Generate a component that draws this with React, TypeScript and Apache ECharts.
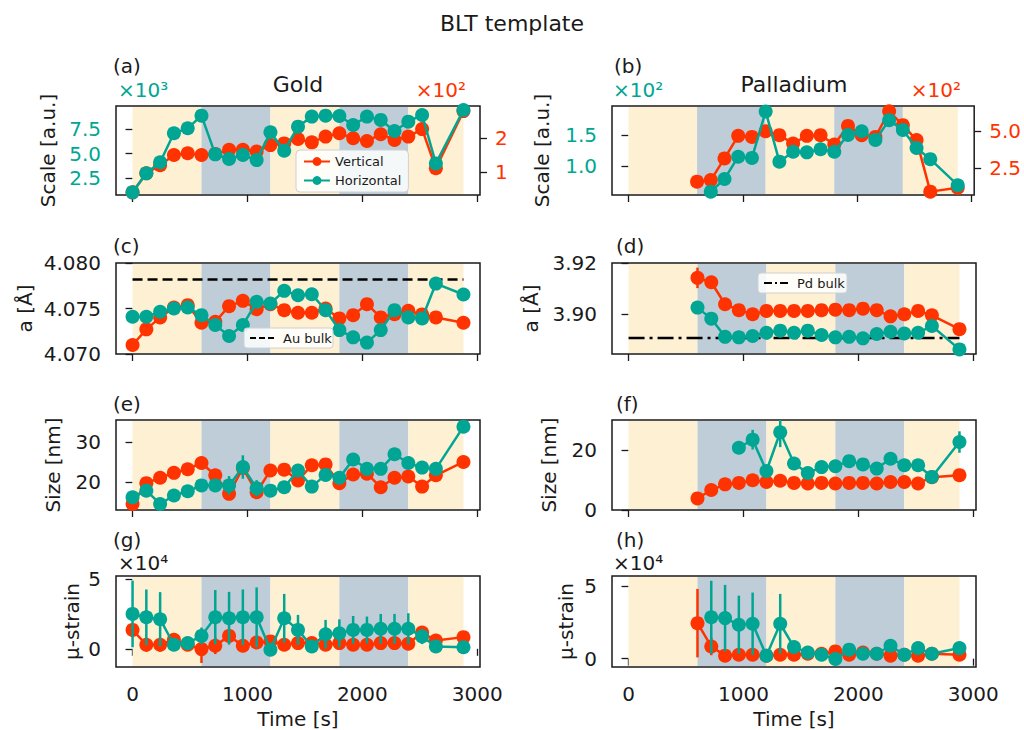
import React, { useEffect, useRef } from "react";
import * as echarts from "echarts";

// ---------- data ----------
const timeAu = [0, 120, 240, 360, 480, 600, 720, 840, 960, 1080, 1200, 1320, 1440, 1560, 1680, 1800, 1920, 2040, 2160, 2280, 2400, 2520, 2640, 2880];
const timePd = [600, 720, 840, 960, 1080, 1200, 1320, 1440, 1560, 1680, 1800, 1920, 2040, 2160, 2280, 2400, 2520, 2640, 2880];

// phase windows [start, end, kind] kind 0 = light, 1 = dark
const phases = [
  [0, 600, 0],
  [600, 1200, 1],
  [1200, 1800, 0],
  [1800, 2400, 1],
  [2400, 2880, 0],
];

// (a) Gold scale: Vertical in units of 1e2, Horizontal in units of 1e3
const goldScaleV = [0.41, 0.97, 1.21, 1.51, 1.56, 1.51, 1.54, 1.66, 1.66, 1.61, 1.80, 1.85, 1.98, 1.88, 2.05, 2.15, 2.00, 1.92, 2.12, 1.95, 2.05, 2.27, 1.12, 2.80];
const goldScaleH = [1.03, 2.98, 4.11, 7.09, 7.60, 8.90, 4.93, 4.45, 4.86, 4.34, 7.19, 5.30, 7.77, 8.80, 8.90, 8.87, 7.94, 8.80, 8.46, 7.33, 8.28, 8.97, 4.00, 9.48];
// (b) Palladium scale: both in units of 1e2
const pdScaleV = [1.55, 1.66, 3.14, 4.68, 4.61, 5.00, 4.73, 4.16, 4.68, 4.73, 4.09, 5.36, 4.73, 4.61, 6.36, 5.41, 4.39, 0.87, 1.14];
const pdScaleH = [null, 0.586, 0.79, 1.15, 1.13, 1.88, 1.07, 1.23, 1.22, 1.27, 1.23, 1.50, 1.56, 1.42, 1.74, 1.58, 1.29, 1.11, 0.69];

// (c) Gold lattice parameter [Å]
const goldLatV = [4.07099, 4.07271, 4.07402, 4.07511, 4.07537, 4.07344, 4.07354, 4.07526, 4.07584, 4.07493, 4.07548, 4.07482, 4.07453, 4.07453, 4.07500, 4.07391, 4.07427, 4.07548, 4.07402, 4.07438, 4.07475, 4.07435, 4.07402, 4.07344];
const goldLatH = [4.07409, 4.07409, 4.07464, 4.07500, 4.07511, 4.07427, 4.07318, 4.07198, 4.07318, 4.07573, 4.07555, 4.07694, 4.07646, 4.07657, 4.07482, 4.07263, 4.07183, 4.07125, 4.07263, 4.07482, 4.07402, 4.07391, 4.07774, 4.07654];
const auBulk = 4.0782;
// (d) Palladium lattice parameter [Å]
const pdLatV = [3.9142, 3.9125, 3.9039, 3.9016, 3.9000, 3.9013, 3.9013, 3.9013, 3.9013, 3.9016, 3.9018, 3.9016, 3.9022, 3.9016, 3.8992, 3.9000, 3.9013, 3.8996, 3.8942];
const pdLatVErr = [0.0040, 0.0010, 0.0005, 0.0004, 0.0004, 0.0004, 0.0004, 0.0004, 0.0004, 0.0004, 0.0004, 0.0004, 0.0004, 0.0004, 0.0004, 0.0004, 0.0004, 0.0004, 0.0005];
const pdLatH = [3.9026, 3.8983, 3.8912, 3.8910, 3.8915, 3.8928, 3.8936, 3.8928, 3.8936, 3.8919, 3.8910, 3.8912, 3.8906, 3.8923, 3.8932, 3.8925, 3.8928, 3.8954, 3.8863];
const pdBulk = 3.8907;

// (e) Gold size [nm]
const goldSizeV = [14.6, 19.75, 21.1, 22.3, 23.2, 24.75, 21.7, 17.1, 23.5, 17.5, 22.9, 23.1, 20.4, 24.2, 24.4, 19.75, 21.9, 22.1, 18.75, 21.1, 21.4, 18.9, 21.7, 25.0];
const goldSizeH = [16.25, 17.9, 14.6, 16.7, 17.75, 19.2, 19.2, 19.2, 23.75, 18.5, 17.9, 18.75, 22.9, 18.9, 21.8, 21.1, 25.6, 23.3, 23.3, 26.9, 24.75, 23.6, 23.3, 33.75];
const goldSizeHErr = [0.5, 0.4, 0.4, 0.4, 0.4, 0.5, 0.5, 2.3, 2.9, 2.0, 0.4, 0.4, 0.5, 0.4, 0.5, 0.5, 0.5, 0.5, 0.5, 0.5, 0.5, 0.5, 0.5, 0.8];
// (f) Palladium size [nm]
const pdSizeV = [3.9, 6.7, 8.6, 9.1, 10.0, 9.4, 9.8, 9.1, 8.9, 9.1, 8.9, 9.1, 9.1, 8.9, 9.4, 9.4, 8.9, 11.0, 11.7];
const pdSizeH = [null, null, null, 20.9, 23.6, 13.1, 26.1, 15.6, 12.4, 14.4, 14.7, 16.4, 15.3, 13.9, 17.2, 15.0, 15.0, 11.1, 22.8];
const pdSizeHErr = [null, null, null, 2.0, 3.3, 1.0, 5.0, 1.0, 0.8, 0.8, 0.8, 0.8, 0.8, 0.8, 0.8, 0.8, 0.8, 0.8, 3.6];

// (g) Gold micro-strain, units of 1e4
const goldStrainV = [1.36, 0.29, 0.29, 0.65, 0.29, -0.02, 0.22, 0.93, 0.22, 0.45, 0.53, 0.29, 0.41, 0.41, 0.29, 0.41, 0.29, 0.29, 0.41, 0.41, 0.36, 1.17, 0.60, 0.84];
const goldStrainVErr = [0.5, 0.5, 0.5, 0.4, 0.4, 1.0, 0.6, 0.4, 0.4, 0.4, 0.4, 0.4, 0.3, 0.3, 0.3, 0.3, 0.3, 0.3, 0.3, 0.3, 0.3, 0.3, 0.2, 0.2];
const goldStrainH = [2.51, 2.27, 2.13, 0.29, 0.41, 0.93, 2.27, 2.20, 2.27, 2.27, -0.07, 2.20, 1.36, 0.17, 1.05, 1.12, 1.36, 1.36, 1.44, 1.44, 1.44, 0.89, 0.17, 0.12];
const goldStrainHErr = [2.4, 2.0, 1.95, 0.3, 0.2, 0.6, 1.96, 1.9, 2.0, 2.15, 0.3, 1.75, 1.08, 0.2, 1.03, 1.0, 1.0, 0.96, 1.07, 1.07, 1.12, 0.55, 0.15, 0.1];
// (h) Palladium micro-strain, units of 1e4
const pdStrainV = [2.44, 0.84, 0.21, 0.27, 0.27, 0.21, 0.27, 0.27, 0.34, 0.34, 0.50, 0.27, 0.43, 0.34, 0.21, 0.27, 0.21, 0.34, 0.27];
const pdStrainVErr = [2.35, 0.6, 0.2, 0.2, 0.2, 0.2, 0.2, 0.2, 0.2, 0.2, 0.2, 0.2, 0.2, 0.2, 0.2, 0.2, 0.2, 0.2, 0.2];
const pdStrainH = [null, 2.85, 2.79, 2.33, 2.40, 0.21, 2.40, 0.80, 0.43, 0.27, -0.02, 0.62, 0.34, 0.34, 0.89, 0.27, 0.73, 0.34, 0.73];
const pdStrainHErr = [null, 2.5, 2.28, 2.0, 2.14, 0.2, 2.05, 0.3, 0.2, 0.2, 0.2, 0.2, 0.2, 0.2, 0.2, 0.2, 0.2, 0.2, 0.2];

// tick values
const timeTicks = [0, 1000, 2000, 3000];
const goldScaleHTicks = [2.5, 5.0, 7.5];
const goldScaleVTicks = [1, 2];
const pdScaleHTicks = [1.0, 1.5];
const pdScaleVTicks = [2.5, 5.0];
const goldLatTicks = [4.07, 4.075, 4.08];
const pdLatTicks = [3.9, 3.92];
const goldSizeTicks = [20, 30];
const pdSizeTicks = [0, 20];
const strainTicks = [0, 5];

// ---------- styling ----------
const RED = "#FF3300";
const TEAL = "#00A693";
const PHASE_LIGHT = "#FEF0D2";
const PHASE_DARK = "#BECDD8";
const INK = "#1a1a1a";
const FONT = "DejaVu Sans";

const pairs = (ts: number[], ys: (number | null)[]) =>
  ts.map((t, i) => [t, ys[i]]).filter((p) => p[1] !== null);
const triples = (ts: number[], ys: (number | null)[], es: (number | null)[]) =>
  ts.map((t, i) => [t, ys[i], es[i]]).filter((p) => p[1] !== null && p[2] !== null);

function lineSeries(name: string, color: string, data: any[], xi: number, yi: number, z: number) {
  return {
    type: "line",
    name,
    data,
    xAxisIndex: xi,
    yAxisIndex: yi,
    symbol: "circle",
    symbolSize: 14,
    showSymbol: true,
    lineStyle: { color, width: 2.5 },
    itemStyle: { color },
    z,
    silent: true,
    emphasis: { disabled: true },
  };
}

function errSeries(color: string, data: any[], xi: number, yi: number, z: number) {
  return {
    type: "custom",
    data,
    xAxisIndex: xi,
    yAxisIndex: yi,
    encode: { x: 0, y: 1 },
    z,
    clip: true,
    silent: true,
    renderItem: (params: any, api: any) => {
      const x = api.value(0);
      const y = api.value(1);
      const e = api.value(2);
      const p1 = api.coord([x, y - e]);
      const p2 = api.coord([x, y + e]);
      return {
        type: "line",
        shape: { x1: p1[0], y1: p1[1], x2: p2[0], y2: p2[1] },
        style: { stroke: color, lineWidth: 2.5 },
      };
    },
  };
}

function phaseSeries(xi: number, yi: number, yRef: number) {
  return {
    type: "custom",
    data: phases,
    xAxisIndex: xi,
    yAxisIndex: yi,
    encode: { x: [0, 1], y: 2 },
    z: 1,
    clip: true,
    silent: true,
    renderItem: (params: any, api: any) => {
      const s = api.coord([api.value(0), yRef]);
      const e = api.coord([api.value(1), yRef]);
      const cs = params.coordSys;
      return {
        type: "rect",
        shape: { x: s[0], y: cs.y + 1, width: e[0] - s[0], height: cs.height - 2 },
        style: { fill: api.value(2) === 0 ? PHASE_LIGHT : PHASE_DARK },
      };
    },
  };
}

function refLine(name: string, value: number, t0: number, t1: number, xi: number, yi: number, dash: number[]) {
  return {
    type: "line",
    name,
    data: [[t0, value], [t1, value]],
    xAxisIndex: xi,
    yAxisIndex: yi,
    symbol: "none",
    lineStyle: { color: "#000", width: 2.5, type: dash },
    itemStyle: { color: "#000" },
    z: 2,
    silent: true,
  };
}

const gridBoxes = [
  { left: 116, top: 106, height: 89 },
  { left: 612, top: 106, height: 89 },
  { left: 116, top: 263, height: 91 },
  { left: 612, top: 263, height: 91 },
  { left: 116, top: 420, height: 90 },
  { left: 612, top: 420, height: 90 },
  { left: 116, top: 576, height: 91 },
  { left: 612, top: 576, height: 91 },
];

function yAxis(gridIndex: number, min: number, max: number, ticks: number[], color: string, fmt: (v: number) => string, position = "left") {
  return {
    type: "value",
    gridIndex,
    position,
    min,
    max,
    splitLine: { show: false },
    axisLine: { show: false },
    axisTick: { show: true, customValues: ticks, length: 7, lineStyle: { color: INK, width: 1.3 } },
    axisLabel: { show: true, customValues: ticks, formatter: fmt, color, fontSize: 20, fontFamily: FONT, margin: 15 },
  };
}

function buildOption() {
  const grid = gridBoxes.map((g) => ({
    left: g.left,
    top: g.top,
    width: 364,
    height: g.height,
    show: true,
    borderColor: INK,
    borderWidth: 1.5,
    backgroundColor: "transparent",
  }));

  const xAxis = gridBoxes.map((_, i) => ({
    type: "value",
    gridIndex: i,
    min: -144,
    max: 3024,
    splitLine: { show: false },
    axisLine: { show: false },
    axisTick: { show: true, customValues: timeTicks, length: 7, lineStyle: { color: INK, width: 1.3 } },
    axisLabel: {
      show: i >= 6,
      customValues: timeTicks,
      formatter: (v: number) => String(Math.round(v)),
      color: INK,
      fontSize: 20,
      fontFamily: FONT,
      margin: 17,
    },
  }));

  const f1 = (v: number) => v.toFixed(1);
  const f0 = (v: number) => String(Math.round(v));
  const yAxes = [
    yAxis(0, 0.755, 9.89, goldScaleHTicks, TEAL, f1),
    yAxis(0, 0.332, 2.95, goldScaleVTicks, RED, f0, "right"),
    yAxis(1, 0.532, 1.968, pdScaleHTicks, TEAL, f1),
    yAxis(1, 0.64, 6.72, pdScaleVTicks, RED, f1, "right"),
    yAxis(2, 4.07, 4.08, goldLatTicks, INK, (v) => v.toFixed(3)),
    yAxis(3, 3.8845, 3.92, pdLatTicks, INK, (v) => v.toFixed(2)),
    yAxis(4, 13.1, 35.4, goldSizeTicks, INK, f0),
    yAxis(5, 0, 30.2, pdSizeTicks, INK, f0),
    yAxis(6, -1.31, 5.24, strainTicks, INK, f0),
    yAxis(7, -0.57, 5.68, strainTicks, INK, f0),
  ];

  const series: any[] = [
    // (a)
    phaseSeries(0, 0, 1),
    lineSeries("Vertical", RED, pairs(timeAu, goldScaleV), 0, 1, 3),
    lineSeries("Horizontal", TEAL, pairs(timeAu, goldScaleH), 0, 0, 4),
    // (b)
    phaseSeries(1, 2, 1),
    lineSeries("Vertical", RED, pairs(timePd, pdScaleV), 1, 3, 3),
    lineSeries("Horizontal", TEAL, pairs(timePd, pdScaleH), 1, 2, 4),
    // (c)
    phaseSeries(2, 4, 4.075),
    refLine("Au bulk", auBulk, timeAu[0], timeAu[timeAu.length - 1], 2, 4, [10, 5]),
    lineSeries("Vertical", RED, pairs(timeAu, goldLatV), 2, 4, 3),
    lineSeries("Horizontal", TEAL, pairs(timeAu, goldLatH), 2, 4, 4),
    // (d)
    phaseSeries(3, 5, 3.9),
    refLine("Pd bulk", pdBulk, timeAu[0], timePd[timePd.length - 1], 3, 5, [16, 5, 3, 5]),
    errSeries(RED, triples(timePd, pdLatV, pdLatVErr), 3, 5, 3),
    lineSeries("Vertical", RED, pairs(timePd, pdLatV), 3, 5, 3),
    lineSeries("Horizontal", TEAL, pairs(timePd, pdLatH), 3, 5, 4),
    // (e)
    phaseSeries(4, 6, 20),
    lineSeries("Vertical", RED, pairs(timeAu, goldSizeV), 4, 6, 3),
    errSeries(TEAL, triples(timeAu, goldSizeH, goldSizeHErr), 4, 6, 4),
    lineSeries("Horizontal", TEAL, pairs(timeAu, goldSizeH), 4, 6, 4),
    // (f)
    phaseSeries(5, 7, 10),
    lineSeries("Vertical", RED, pairs(timePd, pdSizeV), 5, 7, 3),
    errSeries(TEAL, triples(timePd, pdSizeH, pdSizeHErr), 5, 7, 4),
    lineSeries("Horizontal", TEAL, pairs(timePd, pdSizeH), 5, 7, 4),
    // (g)
    phaseSeries(6, 8, 0),
    errSeries(RED, triples(timeAu, goldStrainV, goldStrainVErr), 6, 8, 3),
    lineSeries("Vertical", RED, pairs(timeAu, goldStrainV), 6, 8, 3),
    errSeries(TEAL, triples(timeAu, goldStrainH, goldStrainHErr), 6, 8, 4),
    lineSeries("Horizontal", TEAL, pairs(timeAu, goldStrainH), 6, 8, 4),
    // (h)
    phaseSeries(7, 9, 0),
    errSeries(RED, triples(timePd, pdStrainV, pdStrainVErr), 7, 9, 3),
    lineSeries("Vertical", RED, pairs(timePd, pdStrainV), 7, 9, 3),
    errSeries(TEAL, triples(timePd, pdStrainH, pdStrainHErr), 7, 9, 4),
    lineSeries("Horizontal", TEAL, pairs(timePd, pdStrainH), 7, 9, 4),
  ];

  const legend = [
    {
      data: ["Vertical", "Horizontal"],
      left: 296,
      top: 150,
      padding: [5, 7],
      orient: "vertical",
      backgroundColor: "rgba(255,255,255,0.85)",
      borderColor: "#d0d0d0",
      borderWidth: 1,
      borderRadius: 4,
      itemWidth: 26,
      itemHeight: 11,
      itemGap: 6,
      selectedMode: false,
      textStyle: { fontSize: 13, color: INK, fontFamily: FONT },
      z: 10,
    },
  ];

  const txt = (text: string, x: number, y: number, opts: any = {}) => ({
    type: "text",
    x,
    y,
    rotation: opts.rotation || 0,
    z: 20,
    silent: true,
    style: {
      text,
      fontSize: opts.fontSize || 20,
      fontFamily: FONT,
      fill: opts.fill || INK,
      align: opts.align || "left",
      verticalAlign: "middle",
    },
  });
  const vert = { rotation: Math.PI / 2, align: "center" };

  // hand-drawn legend boxes for the reference lines (flat elements)
  const refLegend = (label: string, x: number, y: number, w: number, h: number, dash: number[]) => [
    {
      type: "rect",
      z: 15,
      silent: true,
      shape: { x, y, width: w, height: h, r: 3 },
      style: { fill: "rgba(255,255,255,0.85)", stroke: "#d0d0d0", lineWidth: 1 },
    },
    {
      type: "line",
      z: 16,
      silent: true,
      shape: { x1: x + 6, y1: y + h / 2, x2: x + 32, y2: y + h / 2 },
      style: { stroke: "#000", lineWidth: 2, lineDash: dash },
    },
    {
      type: "text",
      z: 16,
      silent: true,
      x: x + 39,
      y: y + h / 2,
      style: { text: label, fontSize: 13, fontFamily: FONT, fill: INK, align: "left", verticalAlign: "middle" },
    },
  ];

  const graphic = [
    txt("BLT template", 512, 23, { fontSize: 22, align: "center" }),
    txt("Gold", 298, 84, { fontSize: 22, align: "center" }),
    txt("Palladium", 794, 84, { fontSize: 22, align: "center" }),
    txt("(a)", 113, 66),
    txt("(b)", 614, 66),
    txt("(c)", 113, 246),
    txt("(d)", 616, 246),
    txt("(e)", 113, 404),
    txt("(f)", 616, 404),
    txt("(g)", 113, 540),
    txt("(h)", 616, 540),
    txt("×10³", 118, 90, { fill: TEAL }),
    txt("×10²", 466, 90, { fill: RED, align: "right" }),
    txt("×10²", 613, 90, { fill: TEAL }),
    txt("×10²", 961, 90, { fill: RED, align: "right" }),
    txt("×10⁴", 118, 563),
    txt("×10⁴", 613, 563),
    txt("Scale [a.u.]", 48, 150.5, vert),
    txt("Scale [a.u.]", 542, 150.5, vert),
    txt("a [Å]", 25, 308.5, vert),
    txt("a [Å]", 531, 308.5, vert),
    txt("Size [nm]", 53, 465, vert),
    txt("Size [nm]", 549, 465, vert),
    txt("μ-strain", 72, 621.5, vert),
    txt("μ-strain", 566, 621.5, vert),
    txt("Time [s]", 298, 719, { align: "center" }),
    txt("Time [s]", 794, 719, { align: "center" }),
    ...refLegend("Au bulk", 244, 328, 89, 20, [6, 3]),
    ...refLegend("Pd bulk", 758, 273, 89, 20, [8, 3, 2, 3]),
  ];

  return {
    animation: false,
    backgroundColor: "#ffffff",
    textStyle: { fontFamily: FONT },
    grid,
    xAxis,
    yAxis: yAxes,
    series,
    legend,
    graphic,
  };
}

export default function App() {
  const ref = useRef<HTMLDivElement>(null);
  useEffect(() => {
    if (!ref.current) return;
    const chart = echarts.init(ref.current, undefined, { renderer: "svg" });
    chart.setOption(buildOption() as any);
    return () => chart.dispose();
  }, []);
  return (
    <div
      ref={ref}
      style={{ position: "fixed", left: 0, top: 0, width: 1024, height: 730, background: "#fff" }}
    />
  );
}
